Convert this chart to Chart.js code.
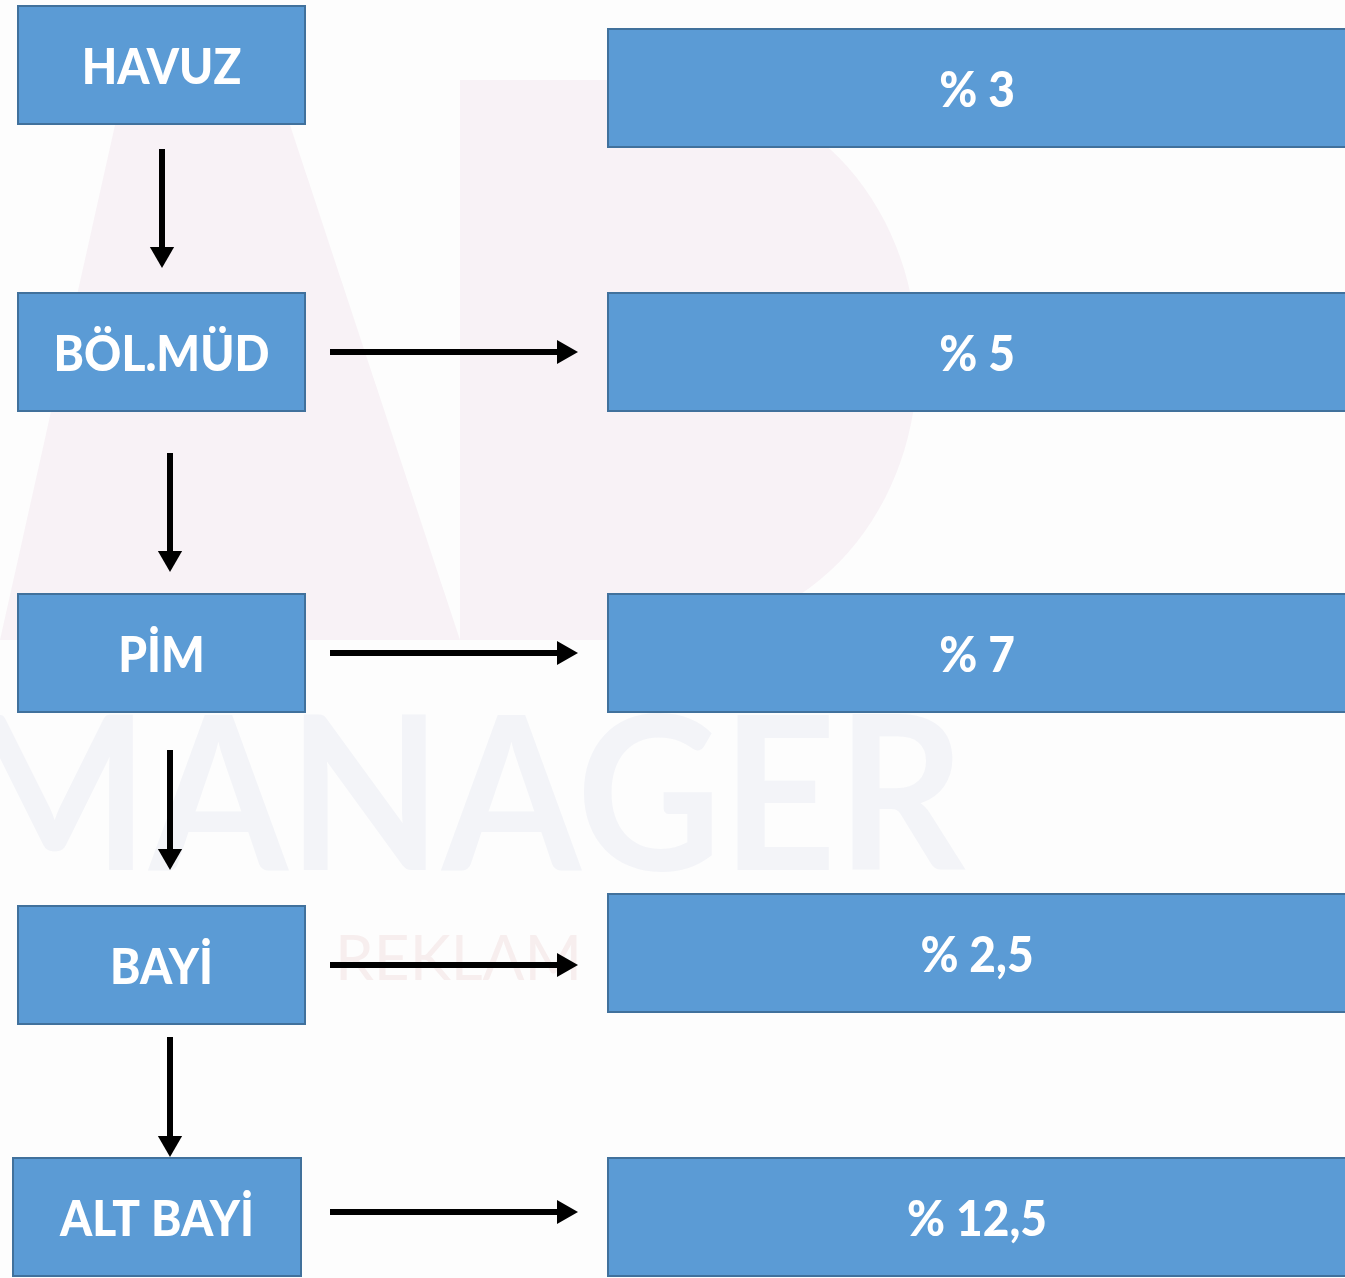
<!DOCTYPE html>
<html>
<head>
<meta charset="utf-8">
<script src="https://cdn.jsdelivr.net/npm/chart.js@4"></script>
<style>
  html, body { margin: 0; padding: 0; background: #fdfdfd; }
  #wrap { width: 1345px; height: 1278px; position: relative; }
</style>
</head>
<body>
<div id="wrap"><canvas id="flow-chart"></canvas></div>
<script>
// data //

const levels = ['HAVUZ', 'BÖL.MÜD', 'PİM', 'BAYİ', 'ALT BAYİ'];
const shares = [3, 5, 7, 2.5, 12.5];
const shareLabels = shares.map(v => '% ' + String(v).replace('.', ','));

// layout (pixel units of the page, y counted from the top) //

const leftBoxes = [
  [17, 306, 5, 125],
  [17, 306, 292, 412],
  [17, 306, 593, 713],
  [17, 306, 905, 1025],
  [12, 302, 1157, 1277]
];
const rightBoxes = [
  [607, 1348, 28, 148],
  [607, 1348, 292, 412],
  [607, 1348, 593, 713],
  [607, 1348, 893, 1013],
  [607, 1348, 1157, 1277]
];
const downArrows = [
  [162, 149, 254],
  [170, 453, 558],
  [170, 750, 856],
  [170, 1037, 1143]
];
const sideArrows = [
  [330, 564, 352],
  [330, 564, 653],
  [330, 564, 965],
  [330, 564, 1212]
];

const boxFill = '#5b9bd5';
const boxBorder = '#41719c';
const textFont = '900 50px Lato, "Open Sans", sans-serif';

function arrowDataset(from, to, rotation) {
  return {
    data: [from, to],
    showLine: true,
    borderColor: '#000',
    borderWidth: 6,
    pointStyle: 'triangle',
    pointRadius: [0, 14],
    pointRotation: rotation,
    pointBackgroundColor: '#000',
    pointBorderColor: '#000',
    pointBorderWidth: 0
  };
}

const datasets = [];
downArrows.forEach(a => datasets.push(arrowDataset({x: a[0], y: a[1]}, {x: a[0], y: a[2]}, 180)));
sideArrows.forEach(a => datasets.push(arrowDataset({x: a[0], y: a[2]}, {x: a[1], y: a[2]}, 90)));

// faint logo behind everything
const watermark = {
  id: 'watermark',
  beforeDatasetsDraw(chart) {
    const {ctx, scales: {x, y}} = chart;
    const px = v => x.getPixelForValue(v);
    const py = v => y.getPixelForValue(v);
    ctx.save();
    ctx.fillStyle = '#f8f2f6';
    ctx.beginPath();
    ctx.moveTo(px(0), py(640));
    ctx.lineTo(px(115), py(125));
    ctx.lineTo(px(290), py(125));
    ctx.lineTo(px(460), py(640));
    ctx.closePath();
    ctx.fill();
    ctx.beginPath();
    ctx.moveTo(px(460), py(80));
    ctx.lineTo(px(640), py(80));
    ctx.bezierCurveTo(px(1010), py(80), px(1010), py(640), px(640), py(640));
    ctx.lineTo(px(460), py(640));
    ctx.closePath();
    ctx.fill();
    ctx.fillStyle = '#f3f4f8';
    ctx.font = 'bold 215px Lato, "Open Sans", sans-serif';
    ctx.textBaseline = 'alphabetic';
    ctx.textAlign = 'left';
    ctx.save();
    ctx.translate(px(-40), py(870));
    ctx.scale(0.93, 1);
    ctx.fillText('MANAGER', 0, 0);
    ctx.restore();
    ctx.fillStyle = '#f7eeee';
    ctx.font = '62px Lato, "Open Sans", sans-serif';
    ctx.fillText('REKLAM', px(335), py(980));
    ctx.restore();
  }
};

// the blue boxes with their labels
const boxes = {
  id: 'boxes',
  afterDatasetsDraw(chart) {
    const {ctx, scales: {x, y}} = chart;
    ctx.save();
    const draw = (b, label) => {
      const x0 = x.getPixelForValue(b[0]), x1 = x.getPixelForValue(b[1]);
      const y0 = y.getPixelForValue(b[2]), y1 = y.getPixelForValue(b[3]);
      ctx.fillStyle = boxFill;
      ctx.fillRect(x0, y0, x1 - x0, y1 - y0);
      ctx.strokeStyle = boxBorder;
      ctx.lineWidth = 2;
      ctx.strokeRect(x0 + 1, y0 + 1, x1 - x0 - 2, y1 - y0 - 2);
      const cx = b[1] > 1345 ? x.getPixelForValue(977) : (x0 + x1) / 2;
      ctx.save();
      ctx.translate(cx, (y0 + y1) / 2 + 3);
      ctx.scale(0.92, 1);
      ctx.fillStyle = '#fff';
      ctx.font = textFont;
      ctx.textAlign = 'center';
      ctx.textBaseline = 'middle';
      ctx.fillText(label, 0, 0);
      ctx.restore();
    };
    leftBoxes.forEach((b, i) => draw(b, levels[i]));
    rightBoxes.forEach((b, i) => draw(b, shareLabels[i]));
    ctx.restore();
  }
};

new Chart(document.querySelector('#flow-chart'), {
  type: 'scatter',
  data: { datasets: datasets },
  options: {
    responsive: true,
    maintainAspectRatio: false,
    animation: false,
    layout: { padding: 0, autoPadding: false },
    clip: false,
    scales: {
      x: { type: 'linear', min: 0, max: 1345, display: false },
      y: { type: 'linear', min: 0, max: 1278, reverse: true, display: false }
    },
    plugins: {
      legend: { display: false },
      tooltip: { enabled: false }
    }
  },
  plugins: [watermark, boxes]
});
</script>
</body>
</html>
